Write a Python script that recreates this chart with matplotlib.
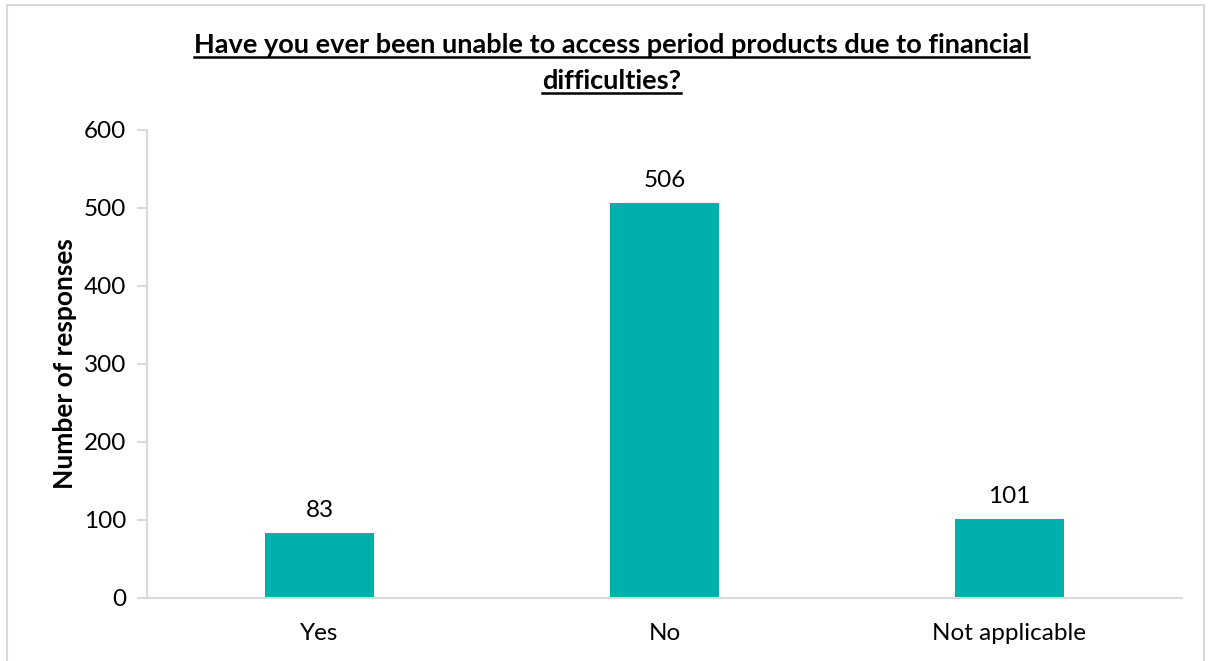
import numpy as np
import matplotlib.pyplot as plt
from matplotlib.lines import Line2D
from matplotlib.patches import Rectangle

categories = ["Yes", "No", "Not applicable"]
responses = [83, 506, 101]
yticks = [0, 100, 200, 300, 400, 500, 600]
title_lines = ["Have you ever been unable to access period products due to financial",
               "difficulties?"]

teal = "#00B0AA"
grey = "#D9D9D9"
plt.rcParams['font.family'] = ['Lato', 'DejaVu Sans']

fig = plt.figure(figsize=(12.09, 6.61), dpi=100)
W, H = 1209, 661
ax = fig.add_axes([147 / W, 1 - 598 / H, (1182 - 147) / W, (598 - 130) / H])

x = np.arange(len(categories))
ax.bar(x, responses, width=0.316, color=teal)
for xi, v in zip(x, responses):
    ax.annotate(str(v), (xi, v), xytext=(0, 9), textcoords="offset points",
                ha="center", va="bottom", fontsize=17.5)

ax.set_xlim(-0.5, len(categories) - 0.5)
ax.set_ylim(0, 600)
ax.set_yticks(yticks)
ax.set_xticks(x)
ax.set_xticklabels(categories)
ax.tick_params(axis="y", length=7, color=grey, width=1.5, labelsize=17.5, pad=8)
ax.tick_params(axis="x", length=0, labelsize=17.5, pad=18)
for s in ["top", "right"]:
    ax.spines[s].set_visible(False)
for s in ["left", "bottom"]:
    ax.spines[s].set_color(grey)
    ax.spines[s].set_linewidth(1.5)
ax.set_ylabel("Number of responses", fontsize=19, fontweight="bold", labelpad=5)

# outer chart border
fig.patches.append(Rectangle((7 / W, -0.01), (1204 - 7) / W, 1 - 5 / H + 0.01,
                             transform=fig.transFigure, fill=False,
                             edgecolor=grey, linewidth=1.5))

# title, two underlined lines
renderer = fig.canvas.get_renderer()
for i, line in enumerate(title_lines):
    y = 1 - (53 + i * 36) / H
    t = fig.text(0.506, y, line, ha="center", va="baseline", fontsize=19.5,
                 fontweight="bold")
    bb = t.get_window_extent(renderer)
    uy = y - 4 / H
    fig.add_artist(Line2D([bb.x0 / W, bb.x1 / W], [uy, uy], color="black",
                          linewidth=1.8, transform=fig.transFigure))

fig.savefig("out.png", dpi=100)
